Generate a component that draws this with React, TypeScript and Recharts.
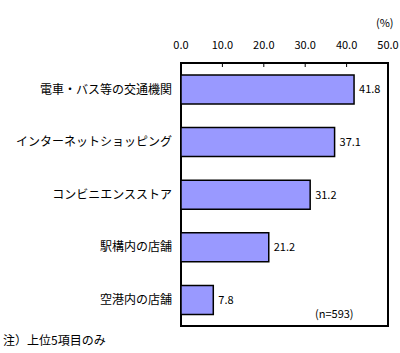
import { BarChart, Bar, XAxis, YAxis, ReferenceArea, LabelList } from 'recharts'

const categories = ['電車・バス等の交通機関', 'インターネットショッピング', 'コンビニエンスストア', '駅構内の店舗', '空港内の店舗']
const shares = [41.8, 37.1, 31.2, 21.2, 7.8]
const xTicks = [0, 10, 20, 30, 40, 50]

const FONT = "'Noto Sans CJK JP', 'Noto Sans', sans-serif"

export default function App() {
  const data = categories.map((name, i) => ({ name, value: shares[i] }))

  return (
    <div style={{ position: 'absolute', left: 0, top: 0, width: 400, height: 353, background: '#fff', fontFamily: FONT }}>
      <BarChart
        width={400}
        height={353}
        data={data}
        layout="vertical"
        margin={{ top: 0, right: 12, bottom: 27, left: 0 }}
        barCategoryGap={0}
        style={{ fontFamily: FONT }}
      >
        <XAxis
          type="number"
          orientation="top"
          domain={[0, 50]}
          ticks={xTicks}
          tickFormatter={(v: number) => v.toFixed(1)}
          height={63}
          axisLine={false}
          tickSize={-4}
          tickMargin={18}
          tickLine={{ stroke: '#000', strokeWidth: 1 }}
          tick={{ fontSize: 11, fill: '#000' }}
          interval={0}
        />
        <YAxis
          type="category"
          dataKey="name"
          width={181}
          axisLine={false}
          tickLine={false}
          tickSize={0}
          tickMargin={9}
          tick={{ fontSize: 12, fill: '#000' }}
          interval={0}
        />
        <ReferenceArea x1={0} x2={50} fill="none" stroke="#000" strokeWidth={2} ifOverflow="visible" />
        <Bar dataKey="value" fill="#9999ff" stroke="#000" strokeWidth={1.5} barSize={29} isAnimationActive={false}>
          <LabelList
            dataKey="value"
            position="right"
            offset={5}
            formatter={(v: number) => v.toFixed(1)}
            style={{ fontSize: 11, fill: '#000' }}
          />
        </Bar>
      </BarChart>
      <div style={{ position: 'absolute', left: 376, top: 14, fontSize: 11, color: '#000' }}>(%)</div>
      <div style={{ position: 'absolute', left: 315, top: 305, fontSize: 11, color: '#000' }}>(n=593)</div>
      <div style={{ position: 'absolute', left: 3, top: 331, fontSize: 12, color: '#000' }}>注）上位5項目のみ</div>
    </div>
  )
}
